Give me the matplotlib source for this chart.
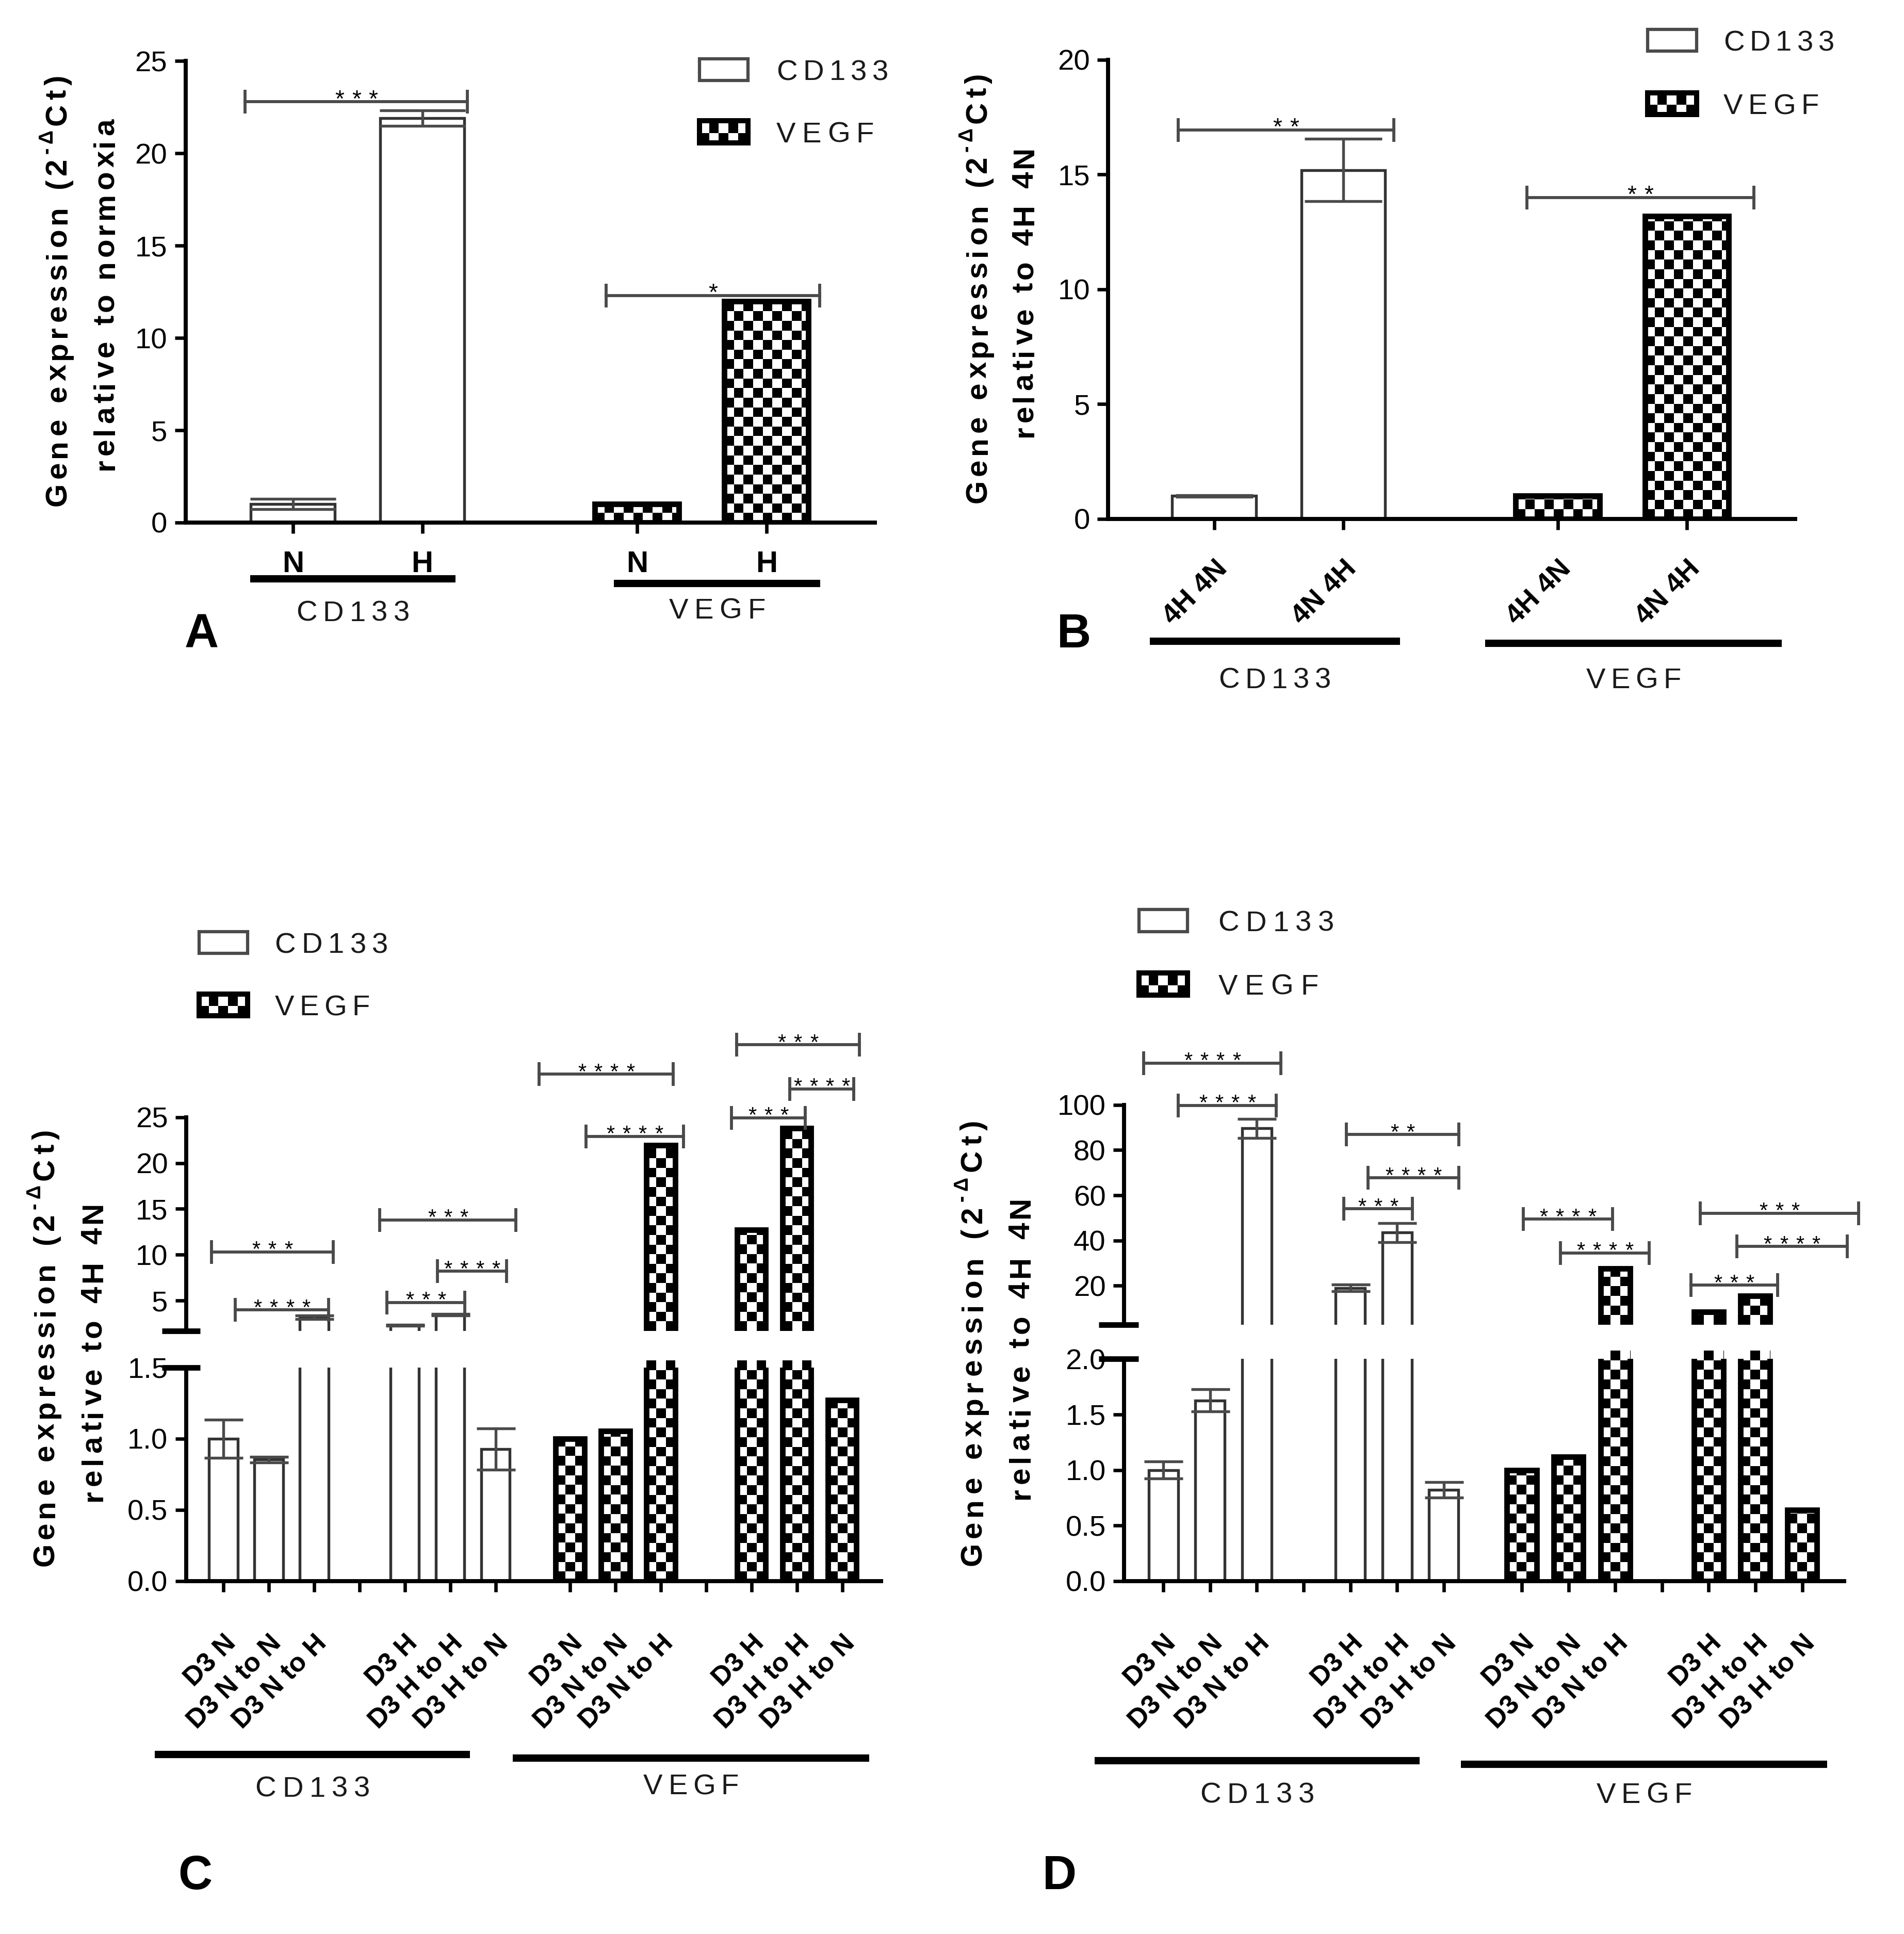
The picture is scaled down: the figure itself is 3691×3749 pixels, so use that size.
import matplotlib
matplotlib.use('Agg')
import numpy as np
import matplotlib.pyplot as plt
from matplotlib.font_manager import FontProperties, findfont, get_font
from matplotlib.patches import Rectangle
from matplotlib.lines import Line2D
import matplotlib.transforms as mtransforms

plt.rcParams['font.family'] = ['Liberation Sans', 'DejaVu Sans']

GRAY = '#4a4a4a'
DPI = 300
SQ_PX = 18.6  # size of one square of the checker fill, in pixels

# ---- panel A : relative to normoxia
a_ticks = ['N', 'H', 'N', 'H']
a_gene = ['CD133', 'CD133', 'VEGF', 'VEGF']
a_vals = [1.0, 21.9, 1.0, 12.0]
a_err = [0.28, 0.42, 0.0, 0.0]
a_sig = [(-0.37, 1.35, 22.8, '***'), (2.42, 4.07, 12.3, '*')]

# ---- panel B : relative to 4H 4N
b_ticks = ['4H 4N', '4N 4H', '4H 4N', '4N 4H']
b_gene = ['CD133', 'CD133', 'VEGF', 'VEGF']
b_vals = [1.0, 15.2, 1.0, 13.2]
b_err = [0.03, 1.35, 0.0, 0.0]
b_sig = [(-0.28, 1.39, 16.95, '**'), (2.42, 4.18, 14.0, '**')]

# ---- panels C and D : D3 groups
cd_ticks = ['D3 N', 'D3 N to N', 'D3 N to H', '', 'D3 H', 'D3 H to H', 'D3 H to N'] * 2
cd_gene = ['CD133'] * 7 + ['VEGF'] * 7

c_vals = [1.0, 0.853, 3.2, None, 2.3, 3.45, 0.927,
          1.0, 1.055, 21.95, None, 12.7, 23.8, 1.27]
c_err = [0.135, 0.02, 0.2, 0, 0.05, 0.1, 0.145,
         0, 0, 0, 0, 0, 0, 0]
c_sig = [(-0.26, 2.42, 10.3, '***'), (0.26, 2.32, 3.97, '****'),
         (3.45, 6.45, 13.8, '***'), (4.72, 6.24, 8.2, '****'),
         (3.60, 5.32, 4.8, '***'), (6.96, 9.92, 29.7, '****'),
         (7.99, 10.14, 22.9, '****'), (11.31, 14.02, 32.9, '***'),
         (12.48, 13.90, 28.1, '****'), (11.20, 12.82, 24.95, '***')]

d_vals = [1.0, 1.626, 89.6, None, 19.0, 43.5, 0.82,
          1.0, 1.12, 27.5, None, 8.3, 15.4, 0.643]
d_err = [0.075, 0.1, 4.2, 0, 1.4, 4.2, 0.07,
         0, 0, 0, 0, 0, 0, 0]
d_sig = [(-0.42, 2.52, 118.5, '****'), (0.32, 2.42, 99.8, '****'),
         (3.92, 6.32, 86.9, '**'), (4.38, 6.32, 67.7, '****'),
         (3.86, 5.33, 54.0, '***'), (7.70, 9.61, 49.4, '****'),
         (8.50, 10.40, 34.4, '****'), (11.49, 14.88, 52.1, '***'),
         (12.27, 14.63, 37.3, '****'), (11.29, 13.14, 20.2, '***')]

ab_pos = [0, 1, 2.66, 3.66]
c_pos = [i for i in range(7)] + [7.64 + i for i in range(7)]
d_pos = [i for i in range(7)] + [7.67 + i for i in range(7)]

YLAB1 = 'Gene expression (2'


def fx(x):
    return x / 1560.0


def fy(y):
    return 1 - y / 1584.0


def disp_pt(d):
    # length measured on the 1560 px wide preview -> points
    return d * (3691 / 1560.0) / DPI * 72


fig = plt.figure(figsize=(3691 / DPI, 3749 / DPI), dpi=DPI)


def advance(ch, size, weight):
    font = get_font(findfont(FontProperties(family='Liberation Sans', weight=weight)))
    font.set_size(size, 72)
    return font.load_char(ord(ch)).linearHoriAdvance / 65536.0


def spaced(base_tr, x, y, parts, weight='normal', rot=0, target=None, track=0.0,
           perp=0.0, color='black'):
    # letter-spaced text: parts = [(text, size, rise)]
    glyphs, pos = [], 0.0
    for text, size, rise in parts:
        for ch in text:
            glyphs.append((ch, size, pos, rise))
            pos += advance(ch, size, weight)
    n = len(glyphs)
    if target is not None and n > 1:
        track = (disp_pt(target) - pos) / (n - 1)
    total = pos + track * (n - 1)
    start = -total / 2
    for i, (ch, size, p, rise) in enumerate(glyphs):
        d = start + p + i * track
        up = rise + perp
        ox, oy = (d, up) if rot == 0 else (-up, d)
        t = mtransforms.offset_copy(base_tr, fig=fig, x=ox, y=oy, units='points')
        fig.text(x, y, ch, transform=t, rotation=rot, rotation_mode='anchor',
                 ha='left', va='baseline', fontsize=size, fontweight=weight, color=color)


def checker(ax, clip, x0, x1, y0, y1):
    ylo, yhi = ax.get_ylim()
    y0c, y1c = max(y0, ylo), min(y1, yhi)
    if y1c <= y0c:
        return
    p0 = ax.transData.transform((x0, y0c))
    p1 = ax.transData.transform((x1, y1c))
    nx = max(1, int(np.ceil((p1[0] - p0[0]) / SQ_PX)))
    ny = max(1, int(np.ceil((p1[1] - p0[1]) / SQ_PX)))
    ex = x0 + nx * SQ_PX * (x1 - x0) / (p1[0] - p0[0])
    ey = y0c + ny * SQ_PX * (y1c - y0c) / (p1[1] - p0[1])
    grid = np.add.outer(np.arange(ny), np.arange(nx)) % 2
    im = ax.imshow(grid, cmap='gray', vmin=0, vmax=1, extent=(x0, ex, y0c, ey),
                   origin='lower', interpolation='nearest', aspect='auto', zorder=2)
    im.set_clip_path(clip)


def style(ax, bottom=True):
    for s in ['top', 'right']:
        ax.spines[s].set_visible(False)
    ax.spines['left'].set_linewidth(1.9)
    ax.spines['bottom'].set_linewidth(1.9)
    if not bottom:
        ax.spines['bottom'].set_visible(False)
        ax.tick_params(axis='x', bottom=False, labelbottom=False)
    ax.tick_params(width=1.6, length=5, labelsize=13.5)
    ax.patch.set_alpha(0)


def draw_bars(ax, pos, vals, errs, genes, width, cap):
    for x, v, e, g in zip(pos, vals, errs, genes):
        if v is None:
            continue
        if g == 'CD133':
            ax.bar(x, v, width, color='white', edgecolor='#333333', linewidth=1.3, zorder=2)
        else:
            outline = ax.bar(x, v, width, fill=False, edgecolor='black', linewidth=2.6, zorder=3)[0]
            checker(ax, outline, x - width / 2, x + width / 2, 0, v)
        if e > 0:
            ax.errorbar(x, v, yerr=e, color=GRAY, capsize=cap, elinewidth=1.3,
                        capthick=1.3, zorder=4, fmt='none')


def draw_sig(ax, sigs, size=10.5):
    for x0, x1, y, txt in sigs:
        ax.plot([x0, x1], [y, y], color=GRAY, lw=1.4, marker='|', markersize=11,
                mew=1.4, clip_on=False, zorder=5)
        spaced(ax.transData, (x0 + x1) / 2, y, [(txt, size, 0)], track=3.6,
               perp=-0.2 * size)


def group_lines(segs):
    for x0, x1, y, name, ty, w in segs:
        fig.add_artist(Line2D([fx(x0), fx(x1)], [fy(y), fy(y)], transform=fig.transFigure,
                              color='black', lw=3.4, solid_capstyle='butt'))
        spaced(fig.transFigure, fx((x0 + x1) / 2), fy(ty), [(name, 13.5, 0)], target=w,
               perp=-0.36 * 13.5, color='#1a1a1a')


def legend_boxes(x, y1, y2, tx, w1, w2):
    w, h = fx(40), 18 / 1584.0
    fig.add_artist(Rectangle((fx(x), fy(y1) - h / 2), w, h, transform=fig.transFigure,
                             facecolor='white', edgecolor=GRAY, lw=1.5))
    axl = fig.add_axes([fx(x), fy(y2) - h / 2, w, h])
    axl.set_xlim(0, 1)
    axl.set_ylim(0, 1)
    axl.axis('off')
    box = Rectangle((0, 0), 1, 1, fill=False, edgecolor='black', lw=2.4, zorder=3,
                    clip_on=False)
    axl.add_patch(box)
    checker(axl, box, 0, 1, 0, 1)
    for yy, name, ww in [(y1, 'CD133', w1), (y2, 'VEGF', w2)]:
        spaced(fig.transFigure, fx(tx + ww / 2), fy(yy), [(name, 13.5, 0)], target=ww,
               perp=-0.36 * 13.5, color='#1a1a1a')


def ylabels(x1, x2, y1c, len1, y2c, len2, second):
    spaced(fig.transFigure, fx(x1), fy(y1c),
           [(YLAB1, 14, 0), ('-\u0394', 9, 6.5), ('Ct)', 14, 0)],
           weight='bold', rot=90, target=len1, perp=-0.33 * 14)
    spaced(fig.transFigure, fx(x2), fy(y2c), [(second, 14, 0)],
           weight='bold', rot=90, target=len2, perp=-0.33 * 14)


def break_mark(ax, yv):
    tr = mtransforms.blended_transform_factory(ax.transAxes, ax.transData)
    ax.plot([-0.035, 0.02], [yv, yv], color='black', lw=2.6, transform=tr,
            clip_on=False, solid_capstyle='butt')


# ---------------- panel A
axA = fig.add_axes([fx(152), fy(428), fx(717 - 152), fy(50) - fy(428)])
style(axA)
axA.set_xlim(-0.83, 4.5)
axA.set_ylim(0, 25)
draw_bars(axA, ab_pos, a_vals, a_err, a_gene, 0.65, 20)
draw_sig(axA, a_sig, size=11)
axA.set_yticks([0, 5, 10, 15, 20, 25])
axA.set_xticks(ab_pos)
axA.set_xticklabels(a_ticks, fontweight='bold', fontsize=14)
axA.tick_params(axis='x', pad=8)
ylabels(46, 85, 238, 353, 241, 288, 'relative to normoxia')
group_lines([(205, 373, 474, 'CD133', 500, 93), (503, 672, 478, 'VEGF', 498, 79)])
legend_boxes(573, 57, 108, 636, 92, 80)
fig.text(fx(165), fy(520), 'A', ha='center', va='center', fontsize=22, fontweight='bold')

# ---------------- panel B
axB = fig.add_axes([fx(908), fy(425), fx(1471 - 908), fy(49) - fy(425)])
style(axB)
axB.set_xlim(-0.82, 4.5)
axB.set_ylim(0, 20)
draw_bars(axB, ab_pos, b_vals, b_err, b_gene, 0.65, 18)
draw_sig(axB, b_sig, size=11)
axB.set_yticks([0, 5, 10, 15, 20])
axB.set_xticks(ab_pos)
axB.set_xticklabels(b_ticks, fontweight='bold', fontsize=13, rotation=45,
                    ha='right', va='top', rotation_mode='anchor')
axB.tick_params(axis='x', pad=12)
ylabels(800, 838, 236, 352, 239, 238, 'relative to 4H 4N')
group_lines([(942, 1147, 525, 'CD133', 555, 92), (1217, 1460, 527, 'VEGF', 555, 78)])
legend_boxes(1350, 33, 85, 1412, 91, 78)
fig.text(fx(880), fy(520), 'B', ha='center', va='center', fontsize=22, fontweight='bold')


# ---------------- panels C and D (broken axes)
def broken_panel(left, right, up_box, low_box, pos, vals, errs, sigs, up_lim, low_lim,
                 up_ticks, low_ticks, xlim):
    axu = fig.add_axes([fx(left), fy(up_box[0]), fx(right - left), fy(up_box[1]) - fy(up_box[0])])
    axl = fig.add_axes([fx(left), fy(low_box[0]), fx(right - left), fy(low_box[1]) - fy(low_box[0])])
    style(axu, bottom=False)
    style(axl)
    axu.set_ylim(*up_lim)
    axl.set_ylim(*low_lim)
    for ax in (axu, axl):
        ax.set_xlim(*xlim)
        draw_bars(ax, pos, vals, errs, cd_gene, 0.63, 9)
    draw_sig(axu, sigs, size=10)
    axu.set_yticks(up_ticks)
    axu.spines['left'].set_bounds(up_lim[0], up_ticks[-1])
    axl.set_yticks(low_ticks)
    axl.set_yticklabels(['%.1f' % t for t in low_ticks])
    break_mark(axu, up_lim[0])
    break_mark(axl, low_lim[1])
    axl.set_xticks(pos)
    axl.set_xticklabels(cd_ticks, fontweight='bold', fontsize=12.5, rotation=45,
                        ha='right', va='top', rotation_mode='anchor')
    axl.tick_params(axis='x', pad=18)
    return axu, axl


broken_panel(152.5, 722, (1090, 840), (1295, 1120), c_pos, c_vals, c_err, c_sig,
             (1.7, 35.0), (0, 1.5), [5, 10, 15, 20, 25], [0.0, 0.5, 1.0, 1.5],
             (-0.82, 14.5))
ylabels(36, 75, 1104, 358, 1107, 245, 'relative to 4H 4N')
group_lines([(127, 385, 1437, 'CD133', 1463, 94), (420, 712, 1440, 'VEGF', 1461, 78)])
legend_boxes(163, 772, 823, 225, 93, 78)
fig.text(fx(160), fy(1537), 'C', ha='center', va='center', fontsize=22, fontweight='bold')

broken_panel(921, 1511, (1085, 850), (1295, 1113), d_pos, d_vals, d_err, d_sig,
             (2.7, 129.7), (0, 2.0), [20, 40, 60, 80, 100], [0.0, 0.5, 1.0, 1.5, 2.0],
             (-0.84, 14.57))
ylabels(796, 835, 1100, 365, 1104, 248, 'relative to 4H 4N')
group_lines([(897, 1163, 1442, 'CD133', 1468, 94), (1197, 1497, 1445, 'VEGF', 1468, 78)])
legend_boxes(933, 754, 806, 998, 95, 82)
fig.text(fx(868), fy(1537), 'D', ha='center', va='center', fontsize=22, fontweight='bold')

fig.savefig('out.png', dpi=DPI, facecolor='white')
